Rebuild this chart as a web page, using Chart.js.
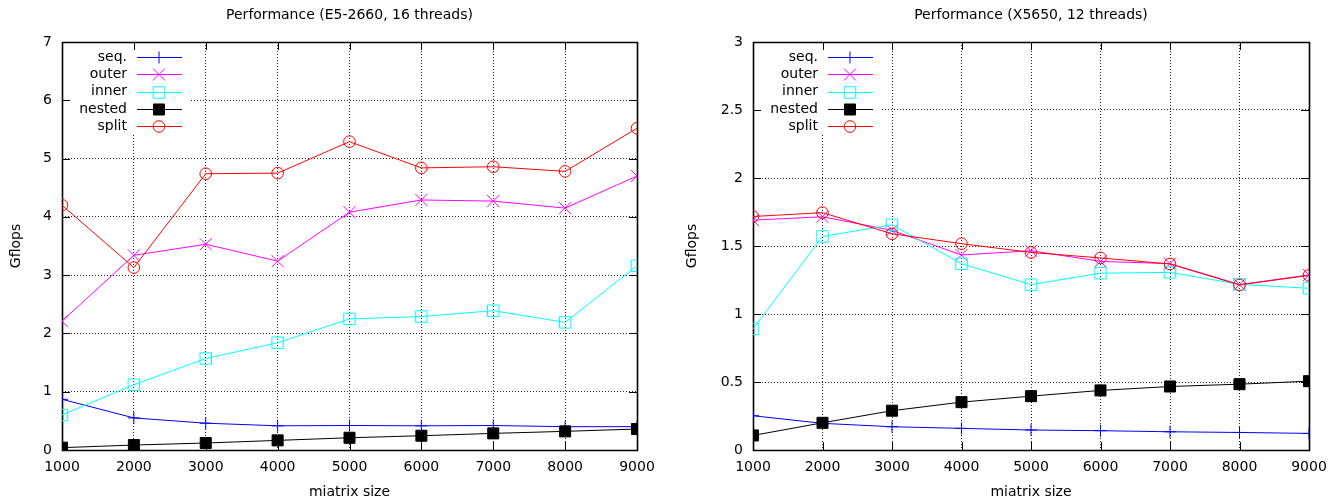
<!DOCTYPE html>
<html><head><meta charset="utf-8">
<script src="https://cdn.jsdelivr.net/npm/chart.js@4"></script>
<style>
html,body{margin:0;padding:0;background:#fff;}
#wrap{position:relative;width:1341px;height:504px;overflow:hidden;background:#fff;}
canvas{position:absolute;top:0;}
</style></head><body>
<div id="wrap">
<canvas id="c1" width="670" height="504" style="left:0px"></canvas>
<canvas id="c2" width="671" height="504" style="left:670px"></canvas>
</div>
<script>
// ---- data ----
const matrixSizes = [1000, 2000, 3000, 4000, 5000, 6000, 7000, 8000, 9000];
const seriesNames = ['seq.', 'outer', 'inner', 'nested', 'split'];

const e5Seq    = [0.87, 0.55, 0.46, 0.415, 0.42, 0.415, 0.42, 0.40, 0.40];
const e5Outer  = [2.21, 3.34, 3.53, 3.24, 4.08, 4.29, 4.27, 4.15, 4.70];
const e5Inner  = [0.60, 1.12, 1.57, 1.84, 2.25, 2.29, 2.39, 2.19, 3.16];
const e5Nested = [0.04, 0.085, 0.12, 0.165, 0.21, 0.245, 0.285, 0.32, 0.36];
const e5Split  = [4.20, 3.13, 4.74, 4.75, 5.29, 4.84, 4.86, 4.78, 5.52];

const x5Seq    = [0.252, 0.196, 0.171, 0.159, 0.147, 0.142, 0.134, 0.129, 0.122];
const x5Outer  = [1.69, 1.715, 1.615, 1.434, 1.465, 1.387, 1.37, 1.216, 1.287];
const x5Inner  = [0.89, 1.57, 1.656, 1.37, 1.216, 1.30, 1.306, 1.218, 1.189];
const x5Nested = [0.107, 0.20, 0.289, 0.352, 0.396, 0.438, 0.467, 0.484, 0.506];
const x5Split  = [1.717, 1.745, 1.59, 1.517, 1.453, 1.412, 1.368, 1.214, 1.284];

const e5YTicks = [0, 1, 2, 3, 4, 5, 6, 7];
const x5YTicks = [0, 0.5, 1, 1.5, 2, 2.5, 3];

const e5Title = 'Performance (E5-2660, 16 threads)';
const x5Title = 'Performance (X5650, 12 threads)';
const xAxisTitle = 'miatrix size';
const yAxisTitle = 'Gflops';

// ---- styles ----
const styles = [
  {color:'#0000ff', point:'cross',    r:6,   fill:false},
  {color:'#ff00ff', point:'crossRot', r:8.5, fill:false},
  {color:'#00ffff', point:'rect',     r:8.1, fill:false},
  {color:'#000000', point:'rect',     r:7.8, fill:true},
  {color:'#ff0000', point:'circle',   r:5.8, fill:false}
];

Chart.defaults.font.family = "'DejaVu Sans', sans-serif";
Chart.defaults.font.size = 14;
Chart.defaults.color = '#000';

function drawMarker(ctx, st, x, y) {
  ctx.save();
  ctx.strokeStyle = st.color; ctx.fillStyle = st.color; ctx.lineWidth = 1;
  ctx.beginPath();
  const r = st.r;
  if (st.point === 'cross') {
    ctx.moveTo(x - r, y); ctx.lineTo(x + r, y);
    ctx.moveTo(x, y - r); ctx.lineTo(x, y + r);
    ctx.stroke();
  } else if (st.point === 'crossRot') {
    const d = r * Math.SQRT1_2;
    ctx.moveTo(x - d, y - d); ctx.lineTo(x + d, y + d);
    ctx.moveTo(x - d, y + d); ctx.lineTo(x + d, y - d);
    ctx.stroke();
  } else if (st.point === 'rect') {
    const s = r * Math.SQRT1_2;
    ctx.rect(x - s, y - s, 2 * s, 2 * s);
    if (st.fill) ctx.fill();
    ctx.stroke();
  } else {
    ctx.arc(x, y, r, 0, Math.PI * 2);
    ctx.stroke();
  }
  ctx.restore();
}

const gnuFrame = {
  id: 'gnuFrame',
  beforeDatasetsDraw(chart, args, opts) {
    const ctx = chart.ctx, ca = chart.chartArea;
    ctx.save();
    // opaque key box
    ctx.fillStyle = '#fff';
    ctx.fillRect(ca.left + 1, ca.top + 1, 127, 90);
    const L = Math.round(ca.left), R = Math.round(ca.right);
    const T = Math.round(ca.top), B = Math.round(ca.bottom);
    ctx.strokeStyle = '#000';
    // inner ticks
    ctx.lineWidth = 1;
    ctx.beginPath();
    const xs = chart.scales.x, ys = chart.scales.y;
    xs.ticks.forEach(t => {
      const px = Math.round(xs.getPixelForValue(t.value)) + 0.5;
      ctx.moveTo(px, B); ctx.lineTo(px, B - 8);
      ctx.moveTo(px, T); ctx.lineTo(px, T + 8);
    });
    ys.ticks.forEach(t => {
      const py = Math.round(ys.getPixelForValue(t.value)) + 0.5;
      ctx.moveTo(L, py); ctx.lineTo(L + 8, py);
      ctx.moveTo(R, py); ctx.lineTo(R - 8, py);
    });
    ctx.stroke();
    // border
    ctx.lineWidth = 1.6;
    ctx.beginPath();
    ctx.rect(L + 0.5, T + 0.5, R - L, B - T);
    ctx.stroke();
    ctx.restore();
  },
  afterDraw(chart, args, opts) {
    const ctx = chart.ctx, ca = chart.chartArea;
    ctx.save();
    // title
    ctx.fillStyle = '#000';
    ctx.font = "14px 'DejaVu Sans', sans-serif";
    ctx.textAlign = 'center'; ctx.textBaseline = 'middle';
    ctx.fillText(opts.title, (ca.left + ca.right) / 2, 15);
    // key
    ctx.textAlign = 'right';
    seriesNames.forEach((name, i) => {
      const y = ca.top + 15 + i * 17.3;
      const st = styles[i];
      ctx.fillStyle = '#000';
      ctx.fillText(name, ca.left + 65, y);
      ctx.strokeStyle = st.color; ctx.lineWidth = 1;
      ctx.beginPath();
      ctx.moveTo(ca.left + 75, Math.round(y) + 0.5);
      ctx.lineTo(ca.left + 120, Math.round(y) + 0.5);
      ctx.stroke();
      drawMarker(ctx, st, ca.left + 97, Math.round(y) + 0.5);
    });
    ctx.restore();
  }
};

function makeChart(id, values, yTicks, yAxisWidth, padRight, yTitlePad, title) {
  const datasets = values.map((vals, i) => {
    const st = styles[i];
    return {
      label: seriesNames[i],
      data: matrixSizes.map((x, j) => ({x: x, y: vals[j]})),
      borderColor: st.color,
      backgroundColor: st.color,
      borderWidth: 1,
      pointStyle: st.point,
      pointRadius: st.r,
      pointBorderWidth: 1,
      pointBorderColor: st.color,
      pointBackgroundColor: st.fill ? st.color : 'rgba(0,0,0,0)',
      tension: 0,
      fill: false,
      order: 5 - i
    };
  });
  const yMin = yTicks[0], yMax = yTicks[yTicks.length - 1];
  return new Chart(document.getElementById(id), {
    type: 'line',
    data: {datasets},
    options: {
      responsive: false,
      animation: false,
      events: [],
      layout: {padding: {left: 0, top: 42, right: padRight, bottom: 0}},
      plugins: {
        legend: {display: false},
        title: {display: false},
        tooltip: {enabled: false},
        gnuFrame: {title: title}
      },
      scales: {
        x: {
          type: 'linear',
          min: matrixSizes[0], max: matrixSizes[matrixSizes.length - 1],
          afterBuildTicks(s) { s.ticks = matrixSizes.map(v => ({value: v})); },
          ticks: {padding: 9, maxRotation: 0, autoSkip: false, callback: v => String(v), color: '#000'},
          grid: {color: '#222', lineWidth: 1, drawTicks: false},
          border: {display: false, dash: [1, 2]},
          title: {display: true, text: xAxisTitle, padding: {top: 0, bottom: 3}, color: '#000'},
          afterFit(s) { s.height = 54; }
        },
        y: {
          min: yMin, max: yMax,
          afterBuildTicks(s) { s.ticks = yTicks.map(v => ({value: v})); },
          ticks: {padding: 10, callback: v => String(v), color: '#000'},
          grid: {color: '#222', lineWidth: 1, drawTicks: false},
          border: {display: false, dash: [1, 2]},
          title: {display: true, text: yAxisTitle, padding: {top: yTitlePad, bottom: 0}, color: '#000'},
          afterFit(s) { s.width = yAxisWidth; }
        }
      }
    },
    plugins: [gnuFrame]
  });
}

makeChart('c1', [e5Seq, e5Outer, e5Inner, e5Nested, e5Split], e5YTicks, 62, 33, 8, e5Title);
makeChart('c2', [x5Seq, x5Outer, x5Inner, x5Nested, x5Split], x5YTicks, 83, 32, 14, x5Title);
</script>
</body></html>
